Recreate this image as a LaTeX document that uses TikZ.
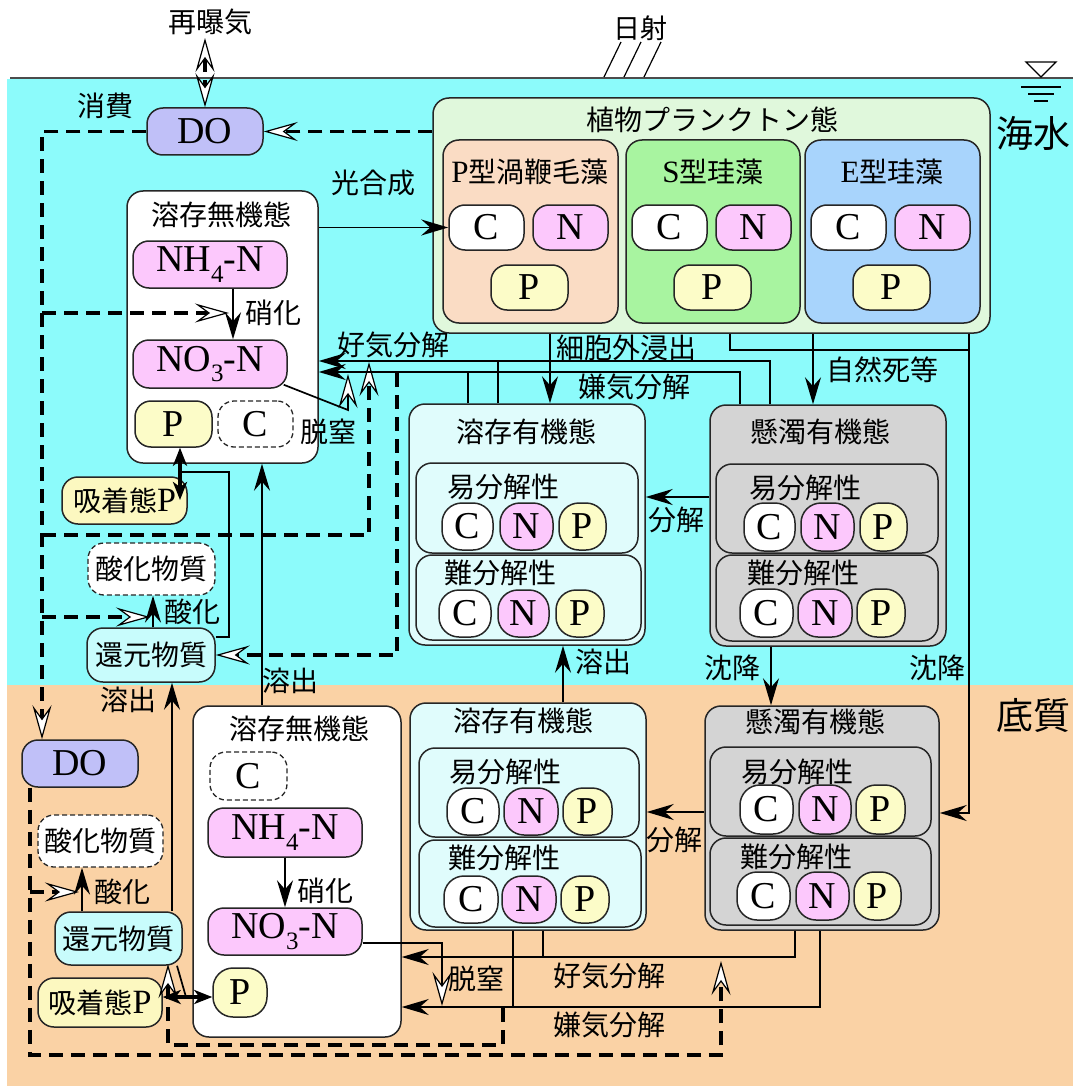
\documentclass[tikz,border=0pt]{standalone}
\usepackage{fontspec}
\setmainfont{Liberation Serif}
\newfontfamily\jp{Noto Sans CJK JP}
\usetikzlibrary{arrows.meta,calc}
\definecolor{sea}{RGB}{140,251,251}
\definecolor{sed}{RGB}{250,210,165}
\definecolor{phy}{RGB}{224,248,220}
\definecolor{pty}{RGB}{250,220,196}
\definecolor{sty}{RGB}{168,244,160}
\definecolor{ety}{RGB}{168,212,252}
\definecolor{dorg}{RGB}{224,252,252}
\definecolor{sorg}{RGB}{212,212,212}
\definecolor{pinkN}{RGB}{252,200,252}
\definecolor{yelP}{RGB}{252,252,200}
\definecolor{doc}{RGB}{192,192,248}
\definecolor{redc}{RGB}{200,252,252}
\definecolor{adsc}{RGB}{252,248,192}
\newcommand\mkbox[7]{%
  \pgfmathsetmacro\bxw{#4-#2}%
  \pgfmathsetmacro\bxh{#5-#3}%
  \node[#6, minimum width=\bxw pt, minimum height=\bxh pt] (#1) at ({(#2+#4)/2},{(#3+#5)/2}) {#7};}
\newcommand\subs[1]{\raisebox{-0.28em}{\fontsize{25}{25}\selectfont #1}}
\tikzset{
  OpT/.tip={Stealth[length=34pt 0 0,width=19pt 0 0,inset=13pt 0 0,fill=white,line width=1.2pt]},
  BkT/.tip={Stealth[length=27pt 0 0,width=16pt 0 0,inset=9pt 0 0]},
  BkS/.tip={Stealth[length=18pt 0 0,width=14pt 0 0,inset=5pt 0 0]},
  bdr/.style={draw=black!85, line width=1.5pt, inner sep=0pt},
  big/.style={bdr, rounded corners=16pt},
  pill/.style={bdr, rounded corners=16pt, font=\fontsize{38}{38}\selectfont},
  rnd/.style={bdr, rounded corners=20pt, font=\fontsize{38}{38}\selectfont},
  dpill/.style={draw=black!85, line width=1.3pt, dash pattern=on 5pt off 3pt, inner sep=0pt, rounded corners=16pt},
  jt/.style={font=\jp\fontsize{28}{28}\selectfont, inner sep=0pt},
  jtb/.style={font=\jp\fontsize{37}{37}\selectfont, inner sep=0pt},
  ln/.style={line width=1.7pt, black},
  thk/.style={line width=3.4pt, black},
  dsh/.style={line width=3.1pt, black, dash pattern=on 14pt off 8pt},
}
\begin{document}
\begin{tikzpicture}[x=1pt,y=-1pt]
\useasboundingbox (0,0) rectangle (1073,1086);
\fill[white] (0,0) rectangle (1073,1086);
\fill[sea] (7,79) rectangle (1073,685);
\fill[sed] (7,685) rectangle (1073,1086);
\draw[line width=1.3pt, black!70] (10,78) -- (1073,78);
% sea level symbol
\draw[line width=1.3pt, fill=white] (1026,62) -- (1056,62) -- (1041,77) -- cycle;
\draw[line width=1.3pt] (1021,87) -- (1061,87) (1028,94) -- (1054,94) (1034,101) -- (1048,101);
% sun rays
\draw[line width=1.2pt] (621,42) -- (604,77) (641,42) -- (624,77) (661,42) -- (644,77);

% ---------- boxes ----------
\mkbox{DOt}{147}{108}{263}{155}{pill, fill=doc}{DO}
\mkbox{DOb}{22}{740}{138}{787}{pill, fill=doc}{DO}

\mkbox{phyto}{433}{98}{990}{333}{big, fill=phy}{}
\mkbox{Ptyp}{443}{140}{618}{323}{big, fill=pty}{}
\mkbox{Styp}{626}{140}{800}{323}{big, fill=sty}{}
\mkbox{Etyp}{805}{140}{980}{323}{big, fill=ety}{}
\mkbox{PC1}{449}{205}{524}{250}{pill, fill=white}{C}
\mkbox{PN1}{533}{205}{608}{250}{pill, fill=pinkN}{N}
\mkbox{PP1}{491}{265}{568}{310}{pill, fill=yelP}{P}
\mkbox{PC2}{632}{205}{707}{250}{pill, fill=white}{C}
\mkbox{PN2}{716}{205}{791}{250}{pill, fill=pinkN}{N}
\mkbox{PP2}{674}{265}{751}{310}{pill, fill=yelP}{P}
\mkbox{PC3}{811}{205}{886}{250}{pill, fill=white}{C}
\mkbox{PN3}{895}{205}{970}{250}{pill, fill=pinkN}{N}
\mkbox{PP3}{853}{265}{930}{310}{pill, fill=yelP}{P}

\mkbox{inorgT}{127}{191}{318}{463}{big, fill=white}{}
\mkbox{NH4T}{133}{241}{287}{288}{pill, fill=pinkN}{NH\subs{4}-N}
\mkbox{NO3T}{133}{340}{287}{388}{pill, fill=pinkN}{NO\subs{3}-N}
\mkbox{PT}{135}{401}{212}{447}{pill, fill=yelP}{P}
\mkbox{CT}{218}{401}{293}{447}{dpill, fill=white, font=\fontsize{38}{38}\selectfont}{C}

\mkbox{adsT}{62}{477}{187}{524}{pill, fill=adsc, font=\fontsize{34}{34}\selectfont}{{\jp\fontsize{28}{28}\selectfont 吸着態}P}
\mkbox{oxT}{88}{543}{215}{595}{dpill, fill=white, font=\jp\fontsize{28}{28}\selectfont}{酸化物質}
\mkbox{redT}{87}{628}{215}{682}{pill, fill=redc, font=\jp\fontsize{28}{28}\selectfont}{還元物質}

\mkbox{DisT}{409}{404}{645}{645}{big, fill=dorg}{}
\mkbox{DTe}{416}{463}{638}{553}{big, fill=dorg}{}
\mkbox{DTh}{416}{555}{641}{640}{big, fill=dorg}{}
\mkbox{DTeC}{442}{503}{493}{550}{rnd, fill=white}{C}
\mkbox{DTeN}{500}{503}{553}{550}{rnd, fill=pinkN}{N}
\mkbox{DTeP}{559}{503}{606}{550}{rnd, fill=yelP}{P}
\mkbox{DThC}{439}{590}{491}{637}{rnd, fill=white}{C}
\mkbox{DThN}{498}{590}{549}{637}{rnd, fill=pinkN}{N}
\mkbox{DThP}{556}{590}{604}{637}{rnd, fill=yelP}{P}

\mkbox{SusT}{710}{405}{946}{646}{big, fill=sorg}{}
\mkbox{STe}{716}{464}{938}{553}{big, fill=sorg}{}
\mkbox{STh}{716}{555}{938}{641}{big, fill=sorg}{}
\mkbox{STeC}{744}{503}{795}{551}{rnd, fill=white}{C}
\mkbox{STeN}{801}{503}{854}{551}{rnd, fill=pinkN}{N}
\mkbox{STeP}{860}{503}{907}{551}{rnd, fill=yelP}{P}
\mkbox{SThC}{740}{589}{793}{637}{rnd, fill=white}{C}
\mkbox{SThN}{798}{589}{852}{637}{rnd, fill=pinkN}{N}
\mkbox{SThP}{857}{589}{905}{637}{rnd, fill=yelP}{P}

\mkbox{DisB}{410}{703}{646}{930}{big, fill=dorg}{}
\mkbox{DBe}{419}{748}{639}{837}{big, fill=dorg}{}
\mkbox{DBh}{419}{840}{641}{927}{big, fill=dorg}{}
\mkbox{DBeC}{447}{788}{499}{835}{rnd, fill=white}{C}
\mkbox{DBeN}{504}{788}{558}{835}{rnd, fill=pinkN}{N}
\mkbox{DBeP}{563}{788}{612}{835}{rnd, fill=yelP}{P}
\mkbox{DBhC}{444}{876}{498}{923}{rnd, fill=white}{C}
\mkbox{DBhN}{502}{876}{556}{923}{rnd, fill=pinkN}{N}
\mkbox{DBhP}{561}{876}{609}{923}{rnd, fill=yelP}{P}

\mkbox{SusB}{705}{706}{939}{930}{big, fill=sorg}{}
\mkbox{SBe}{710}{747}{931}{836}{big, fill=sorg}{}
\mkbox{SBh}{710}{838}{931}{925}{big, fill=sorg}{}
\mkbox{SBeC}{740}{785}{793}{834}{rnd, fill=white}{C}
\mkbox{SBeN}{799}{785}{851}{834}{rnd, fill=pinkN}{N}
\mkbox{SBeP}{856}{785}{905}{834}{rnd, fill=yelP}{P}
\mkbox{SBhC}{737}{872}{790}{920}{rnd, fill=white}{C}
\mkbox{SBhN}{796}{872}{849}{920}{rnd, fill=pinkN}{N}
\mkbox{SBhP}{854}{872}{901}{920}{rnd, fill=yelP}{P}

\mkbox{inorgB}{193}{706}{401}{1037}{big, fill=white}{}
\mkbox{CB}{210}{752}{287}{800}{dpill, fill=white, font=\fontsize{38}{38}\selectfont}{C}
\mkbox{NH4B}{208}{808}{362}{857}{pill, fill=pinkN}{NH\subs{4}-N}
\mkbox{NO3B}{208}{908}{362}{955}{pill, fill=pinkN}{NO\subs{3}-N}
\mkbox{PB}{213}{968}{267}{1017}{rnd, fill=yelP}{P}

\mkbox{oxB}{38}{815}{163}{867}{dpill, fill=white, font=\jp\fontsize{28}{28}\selectfont}{酸化物質}
\mkbox{redB}{55}{912}{182}{965}{pill, fill=redc, font=\jp\fontsize{28}{28}\selectfont}{還元物質}
\mkbox{adsB}{38}{978}{162}{1027}{pill, fill=adsc, font=\fontsize{34}{34}\selectfont}{{\jp\fontsize{28}{28}\selectfont 吸着態}P}

% ---------- coordinates ----------
\coordinate (reA) at (205,38);
\coordinate (xL) at (42,0);
\coordinate (nitTip) at (229,313);
\coordinate (aerTip) at (369,362);
\coordinate (yAer) at (0,535);
\coordinate (oxTipT) at (150,617);
\coordinate (xB) at (30,0);
\coordinate (aerTipB) at (721,961);
\coordinate (yBot) at (0,1055);
\coordinate (oxTipB) at (79,892);
\coordinate (xN) at (233,0);
\coordinate (xNb) at (285,0);
\coordinate (aer1) at (770,361);
\coordinate (aer2) at (498,361);
\coordinate (ana1) at (740,372);
\coordinate (ana2) at (468,372);
\coordinate (xEx) at (550,0);
\coordinate (xMo) at (813,0);
\coordinate (j1) at (730,350);
\coordinate (xSet) at (969,0);
\coordinate (setTip) at (0,813);
\coordinate (yDec) at (0,497);
\coordinate (yDecB) at (0,812);
\coordinate (xD1) at (563,0);
\coordinate (xS) at (771,0);
\coordinate (xD2) at (262,0);
\coordinate (xD3) at (172,0);
\coordinate (xO1) at (153,0);
\coordinate (xO2) at (82,0);
\coordinate (adsTipT) at (180,500);
\coordinate (rj) at (229,472);
\coordinate (yR) at (0,637);
\coordinate (yPB) at (0,997);
\coordinate (rjb0) at (177,0);
\coordinate (rjb) at (186,997);
\coordinate (dnK) at (348,410);
\coordinate (dnTip) at (348,374);
\coordinate (yDnB) at (0,943);
\coordinate (dnTipB) at (442,1006);
\coordinate (aerB1) at (795,957);
\coordinate (aerB2) at (543,957);
\coordinate (anaB1) at (820,1007);
\coordinate (anaB2) at (513,1007);
\coordinate (anaDB) at (503,1008);
\coordinate (yAD) at (0,1045);
\coordinate (redTipB) at (168,964);
\coordinate (anaDT) at (397,373);

% ---------- dashed connectors ----------
\draw[dsh, OpT-OpT] (reA) -- (DOt.north);
\draw[dsh, -OpT] (phyto.west |- DOt.east) -- (DOt.east);
\draw[dsh, -OpT] (DOt.west) -| (xL |- DOb.north);
\draw[dsh, -OpT] (xL |- nitTip) -- (nitTip);
\draw[dsh, -OpT] (xL |- yAer) -| (aerTip);
\draw[dsh, -OpT] (xL |- oxTipT) -- (oxTipT);
\draw[dsh, -OpT] (DOb.south -| xB) |- (aerTipB |- yBot) -- (aerTipB);
\draw[dsh, -OpT] (xB |- oxTipB) -- (oxTipB);
\draw[dsh, -OpT] (anaDB) |- (redTipB |- yAD) -- (redTipB);
\draw[dsh, -OpT] (anaDT) |- (redT.east);

% ---------- solid connectors ----------
\draw[ln, -BkT] (inorgT.east |- PC1.west) -- (PC1.west);
\draw[ln, -BkT] (NH4T.south -| xN) -- (NO3T.north -| xN);
\draw[ln, -BkT] (NH4B.south -| xNb) -- (NO3B.north -| xNb);
\draw[ln, -BkT] (SusT.north -| aer1) |- (inorgT.east |- aer1);
\draw[ln] (DisT.north -| aer2) -- (aer2);
\draw[ln, -BkT] (SusT.north -| ana1) |- (inorgT.east |- ana1);
\draw[ln] (DisT.north -| ana2) -- (ana2);
\draw[ln, -BkT] (phyto.south -| xEx) -- (DisT.north -| xEx);
\draw[ln, -BkT] (phyto.south -| xMo) -- (SusT.north -| xMo);
\draw[ln] (phyto.south -| j1) |- (xSet |- j1);
\draw[ln, -BkT] (phyto.south -| xSet) |- (SusB.east |- setTip);
\draw[ln, -BkT] (SusT.west |- yDec) -- (DisT.east |- yDec);
\draw[ln, -BkT] (SusB.west |- yDecB) -- (DisB.east |- yDecB);
\draw[ln, -BkT] (DisB.north -| xD1) -- (DisT.south -| xD1);
\draw[ln, -BkT] (SusT.south -| xS) -- (SusB.north -| xS);
\draw[ln, -BkT] (inorgB.north -| xD2) -- (inorgT.south -| xD2);
\draw[ln, -BkT] (redB.north -| xD3) -- (redT.south -| xD3);
\draw[ln, -BkT] (redT.north -| xO1) -- (oxT.south -| xO1);
\draw[ln, -BkT] (redB.north -| xO2) -- (oxB.south -| xO2);
\draw[ln] (redT.east |- yR) -| (rj) -- (adsTipT |- rj);
\draw[thk, BkS-BkS] (PT.south -| adsTipT) -- (adsTipT);
\draw[ln] (redB.south -| rjb0) -- (rjb);
\draw[thk, BkS-BkS] (adsB.east |- yPB) -- (PB.west |- yPB);
\draw[ln, -OpT] ($(NO3T.south east)+(-4,-4)$) -- (dnK) -- (dnTip);
\draw[ln, -OpT] (NO3B.east |- yDnB) -| (dnTipB);
\draw[ln, -BkT] (SusB.south -| aerB1) |- (inorgB.east |- aerB1);
\draw[ln] (DisB.south -| aerB2) -- (aerB2);
\draw[ln, -BkT] (SusB.south -| anaB1) |- (inorgB.east |- anaB1);
\draw[ln] (DisB.south -| anaB2) -- (anaB2);

% ---------- labels ----------
\node[jt] (lReae) at (210,22) {再曝気};
\node[jt,font=\jp\fontsize{27}{27}\selectfont] (lSun) at (640,28) {日射};
\node[jt] (lCons) at (105,106) {消費};
\node[jt] (lPhs) at (373,183) {光合成};
\node[jt] (lPhy) at (712,120) {植物プランクトン態};
\node[jt] (lPt) at (530,172) {{\rmfamily\fontsize{31}{31}\selectfont P}型渦鞭毛藻};
\node[jt] (lSt) at (713,172) {{\rmfamily\fontsize{31}{31}\selectfont S}型珪藻};
\node[jt] (lEt) at (892,172) {{\rmfamily\fontsize{31}{31}\selectfont E}型珪藻};
\node[jt] (lInT) at (221,215) {溶存無機態};
\node[jt] (lNitT) at (273,313) {硝化};
\node[jt] (lAerT) at (393,345) {好気分解};
\node[jt] (lExu) at (626,348) {細胞外浸出};
\node[jt] (lAnaT) at (634,387) {嫌気分解};
\node[jt] (lMor) at (882,370) {自然死等};
\node[jt] (lDnT) at (328,432) {脱窒};
\node[jt] (lDisT) at (526,432) {溶存有機態};
\node[jt] (lSusT) at (820,432) {懸濁有機態};
\node[jt] (lDTe) at (503,487) {易分解性};
\node[jt] (lSTe) at (805,488) {易分解性};
\node[jt] (lDTh) at (500,573) {難分解性};
\node[jt] (lSTh) at (803,573) {難分解性};
\node[jt] (lDecT) at (676,520) {分解};
\node[jt] (lOxT) at (192,612) {酸化};
\node[jt] (lEl1) at (128,700) {溶出};
\node[jt] (lEl2) at (290,681) {溶出};
\node[jt] (lEl3) at (603,662) {溶出};
\node[jt] (lSet1) at (732,668) {沈降};
\node[jt] (lSet2) at (937,668) {沈降};
\node[jtb] (lSea) at (1033,133) {海水};
\node[jtb] (lSed) at (1033,715) {底質};
\node[jt] (lInB) at (299,729) {溶存無機態};
\node[jt] (lDisB) at (523,721) {溶存有機態};
\node[jt] (lSusB) at (815,722) {懸濁有機態};
\node[jt] (lDBe) at (505,772) {易分解性};
\node[jt] (lSBe) at (797,772) {易分解性};
\node[jt] (lDBh) at (504,858) {難分解性};
\node[jt] (lSBh) at (796,857) {難分解性};
\node[jt] (lDecB) at (674,840) {分解};
\node[jt] (lNitB) at (325,891) {硝化};
\node[jt] (lDnB) at (476,979) {脱窒};
\node[jt] (lAerB) at (609,976) {好気分解};
\node[jt] (lAnaB) at (609,1025) {嫌気分解};
\node[jt] (lOxB) at (122,892) {酸化};
\end{tikzpicture}
\end{document}
